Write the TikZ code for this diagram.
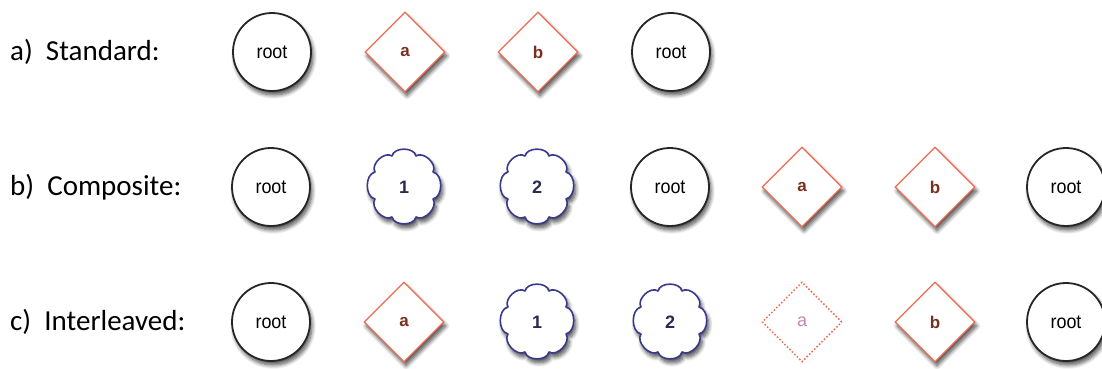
\documentclass[tikz,border=0pt]{standalone}
\usepackage{fontspec}
\setmainfont{Liberation Sans}
\newfontfamily\labelfont{Carlito}
\newfontfamily\nodefont[FakeStretch=0.92]{Liberation Sans}
\usetikzlibrary{shapes.geometric,shadows.blur}
\definecolor{dorange}{HTML}{EE6A4E}
\definecolor{dbrown}{HTML}{7A2E1C}
\definecolor{cblue}{HTML}{3A3A8C}
\definecolor{cnavy}{HTML}{2A2A55}
\definecolor{ghost}{HTML}{C08AB0}
\newcommand\puffcloud[1]{%
  \path[cloudline,shift={(#1.center)}]
    (-12,31) to[bend left=78] (12,31) to[bend left=78] (29,15)
    to[bend left=78] (29,-12) to[bend left=78] (12,-30)
    to[bend left=78] (-12,-30) to[bend left=78] (-29,-12)
    to[bend left=78] (-29,15) to[bend left=78] cycle;}
\begin{document}
\begin{tikzpicture}[x=1pt,y=1pt,
  shad/.style={blur shadow={shadow xshift=2pt,shadow yshift=-4pt,shadow blur steps=8,shadow blur radius=4pt,shadow opacity=70}},
  rootnode/.style={circle,draw=black!85,line width=1.8pt,fill=white,minimum size=78pt,inner sep=0pt,font=\nodefont\fontsize{19.5}{21}\selectfont,shad},
  opnode/.style={diamond,draw=dorange,line width=1.3pt,fill=white,minimum size=80pt,inner sep=0pt,text=dbrown,font=\bfseries\fontsize{17}{19}\selectfont,shad},
  ghostnode/.style={diamond,draw=dorange,line width=1.5pt,dotted,fill=white,minimum size=80pt,inner sep=0pt,text=ghost,font=\fontsize{18}{20}\selectfont},
  cloudline/.style={draw=cblue,line width=1.6pt,fill=white,line join=round,shad},
  cloudtext/.style={inner sep=0pt,text=cnavy,font=\bfseries\fontsize{18}{20}\selectfont},
  rowlabel/.style={anchor=west,font=\labelfont\fontsize{29}{32}\selectfont,inner sep=0pt}]
\useasboundingbox (0,0) rectangle (1102,368);
% row a
\node[rowlabel] (la) at (10,316) {a)\ \ Standard:};
\node[rootnode] (a1) at (272,316) {root};
\node[opnode] (a2) at (405,316) {a};
\node[opnode] (a3) at (538,316) {b};
\node[rootnode] (a4) at (671,316) {root};
% row b
\node[rowlabel] (lb) at (10,181) {b)\ \ Composite:};
\node[rootnode] (b1) at (271,181) {root};
\coordinate (b2) at (404,181); \puffcloud{b2}
\node[cloudtext] (b2t) at (b2) {1};
\coordinate (b3) at (537,181); \puffcloud{b3}
\node[cloudtext] (b3t) at (b3) {2};
\node[rootnode] (b4) at (670,181) {root};
\node[opnode] (b5) at (802,181) {a};
\node[opnode] (b6) at (935,181) {b};
\node[rootnode] (b7) at (1066,181) {root};
% row c
\node[rowlabel] (lc) at (10,46) {c)\ \ Interleaved:};
\node[rootnode] (c1) at (271,46) {root};
\node[opnode] (c2) at (404,46) {a};
\coordinate (c3) at (537,46); \puffcloud{c3}
\node[cloudtext] (c3t) at (c3) {1};
\coordinate (c4) at (670,46); \puffcloud{c4}
\node[cloudtext] (c4t) at (c4) {2};
\node[ghostnode] (c5) at (802,46) {a};
\node[opnode] (c6) at (935,46) {b};
\node[rootnode] (c7) at (1066,46) {root};
\end{tikzpicture}
\end{document}
